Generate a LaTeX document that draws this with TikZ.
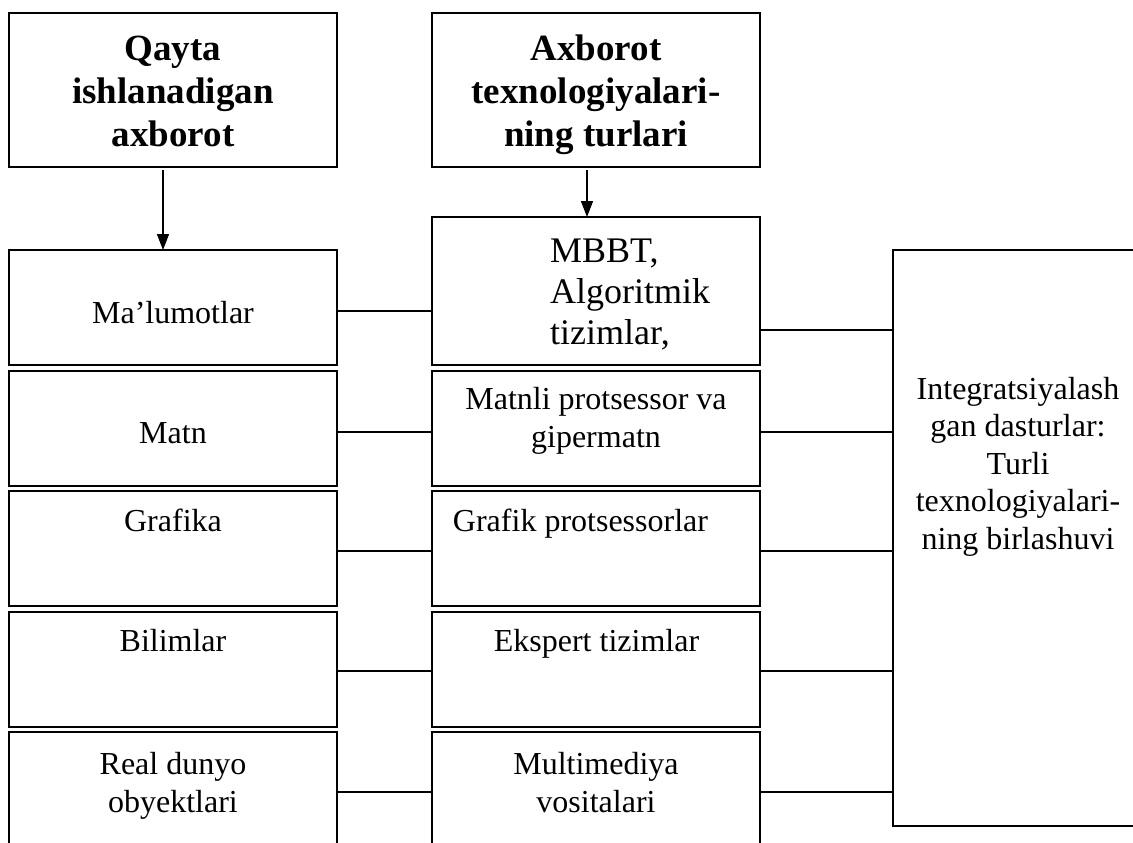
\documentclass[tikz,border=0pt]{standalone}
\usepackage{fontspec}
\setmainfont{Liberation Serif}
\usetikzlibrary{arrows.meta}
\begin{document}
\begin{tikzpicture}[x=1pt,y=-1pt,
  cell/.style={draw, line width=1.5pt, inner sep=0pt, outer sep=0pt,
    anchor=north west, minimum width=328pt},
  link/.style={draw, line width=1.2pt},
  arr/.style={draw, line width=1.5pt, -{Triangle[width=12pt,length=16pt]}},
  head/.style={font=\fontsize{37}{43}\selectfont\bfseries, align=center, anchor=base, inner sep=0pt},
  body/.style={font=\fontsize{32}{37.5}\selectfont, align=center, anchor=base, inner sep=0pt},
  big/.style={font=\fontsize{36}{41}\selectfont, align=left, anchor=base west, inner sep=0pt}]
\useasboundingbox (0,0) rectangle (1133,843);
\clip (0,0) rectangle (1133,843);

% header boxes (text anchors sit on the last line's baseline)
\node[cell, minimum height=154pt] (l0) at (9,13) {};
\node[cell, minimum height=154pt] (m0) at (432,13) {};
\node[head] (tl0) at (173,146) {Qayta\\ishlanadigan\\axborot};
\node[head] (tm0) at (596,146) {Axborot\\texnologiyalari-\\ning turlari};

% left column: kinds of information
\node[cell, minimum height=115pt] (l1) at (9,250) {};
\node[cell, minimum height=115pt] (l2) at (9,371) {};
\node[cell, minimum height=115pt] (l3) at (9,491) {};
\node[cell, minimum height=115pt] (l4) at (9,612) {};
\node[cell, minimum height=130pt] (l5) at (9,732) {};

% middle column: technologies
\node[cell, minimum height=148pt] (m1) at (432,217) {};
\node[cell, minimum height=115pt] (m2) at (432,371) {};
\node[cell, minimum height=115pt] (m3) at (432,491) {};
\node[cell, minimum height=115pt] (m4) at (432,612) {};
\node[cell, minimum height=130pt] (m5) at (432,732) {};

% right column: integrated programs
\node[cell, minimum width=270pt, minimum height=576pt] (r) at (893,250) {};

% texts
\node[body] (tl1) at (173,323) {Ma’lumotlar};
\node[body] (tl2) at (173,443) {Matn};
\node[body] (tl3) at (173,531) {Grafika};
\node[body] (tl4) at (173,651) {Bilimlar};
\node[body] (tl5) at (173,812) {Real dunyo\\obyektlari};

\node[big] (tm1) at (550,344) {MBBT,\\Algoritmik\\tizimlar,};
\node[body] (tm2) at (596,447) {Matnli protsessor va\\gipermatn};
\node[body] (tm3) at (580.5,531) {Grafik protsessorlar};
\node[body] (tm4) at (596.5,651) {Ekspert tizimlar};
\node[body] (tm5) at (596,812) {Multimediya\\vositalari};

\node[body] (tr) at (1018,549) {Integratsiyalash\\gan dasturlar:\\Turli\\texnologiyalari-\\ning birlashuvi};

% arrows from the headers
\draw[arr] ([xshift=-10pt,yshift=-3pt]l0.south) -- ([xshift=-10pt]l1.north);
\draw[arr] ([xshift=-9pt,yshift=-3pt]m0.south) -- ([xshift=-9pt]m1.north);

% connector heights
\coordinate (a1) at (0,311);
\coordinate (a2) at (0,432);
\coordinate (a3) at (0,551);
\coordinate (a4) at (0,671);
\coordinate (a5) at (0,792);
\coordinate (b1) at (0,330);

% left to middle
\draw[link] (l1.east |- a1) -- (m1.west |- a1);
\draw[link] (l2.east |- a2) -- (m2.west |- a2);
\draw[link] (l3.east |- a3) -- (m3.west |- a3);
\draw[link] (l4.east |- a4) -- (m4.west |- a4);
\draw[link] (l5.east |- a5) -- (m5.west |- a5);

% middle to right
\draw[link] (m1.east |- b1) -- (r.west |- b1);
\draw[link] (m2.east |- a2) -- (r.west |- a2);
\draw[link] (m3.east |- a3) -- (r.west |- a3);
\draw[link] (m4.east |- a4) -- (r.west |- a4);
\draw[link] (m5.east |- a5) -- (r.west |- a5);
\end{tikzpicture}
\end{document}
